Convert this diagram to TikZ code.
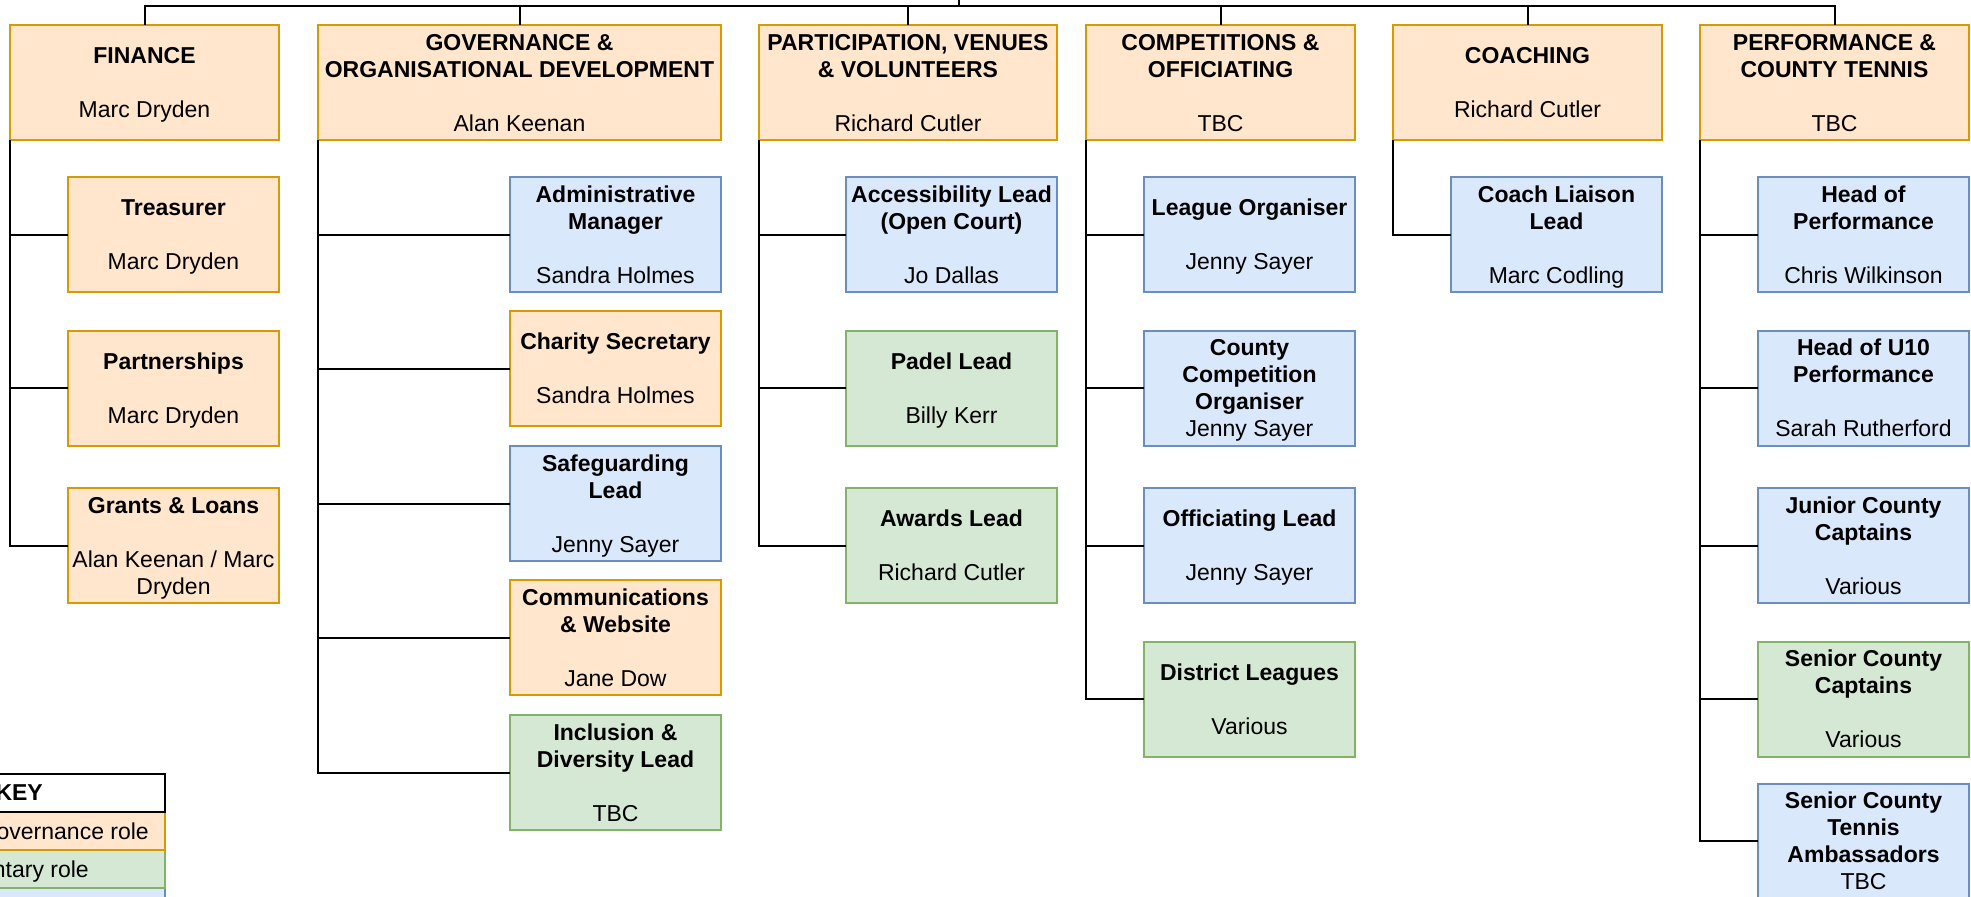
\documentclass[tikz,border=0pt]{standalone}
\usepackage{fontspec}
\setmainfont{Liberation Sans}
\definecolor{orgF}{HTML}{FFE6CC}
\definecolor{orgD}{HTML}{D79B00}
\definecolor{grnF}{HTML}{D5E8D4}
\definecolor{grnD}{HTML}{82B366}
\definecolor{bluF}{HTML}{DAE8FC}
\definecolor{bluD}{HTML}{6C8EBF}
\newcommand\lstr{\rule[-5.2pt]{0pt}{27pt}}
\begin{document}
\begin{tikzpicture}[x=1pt,y=-1pt,
  box/.style={draw, line width=2pt, align=center, inner sep=0pt, outer sep=0pt,
    font=\fontsize{23}{27}\selectfont, minimum height=115pt},
  org/.style={box, fill=orgF, draw=orgD},
  grn/.style={box, fill=grnF, draw=grnD},
  blu/.style={box, fill=bluF, draw=bluD},
  head/.style={minimum width=269pt},
  kid/.style={minimum width=211pt},
  conn/.style={line width=2pt, black},
  keytxt/.style={inner sep=0pt, anchor=base east, font=\fontsize{23}{27}\selectfont}
]
\useasboundingbox (0,0) rectangle (1971,897);
\clip (0,0) rectangle (1971,897);
\fill[white] (0,0) rectangle (1971,897);

% heads
\node[org, head] (fin) at (144.5,82.5) {\lstr\textbf{FINANCE}\\[27pt]Marc Dryden\lstr};
\node[org, minimum width=403pt] (gov) at (519.5,82.5) {\lstr\textbf{GOVERNANCE \&}\\\textbf{ORGANISATIONAL DEVELOPMENT}\\[27pt]Alan Keenan\lstr};
\node[org, minimum width=298pt] (par) at (908,82.5) {\lstr\textbf{PARTICIPATION, VENUES}\\\textbf{\& VOLUNTEERS}\\[27pt]Richard Cutler\lstr};
\node[org, head] (com) at (1220.5,82.5) {\lstr\textbf{COMPETITIONS \&}\\\textbf{OFFICIATING}\\[27pt]TBC\lstr};
\node[org, head] (coa) at (1527.5,82.5) {\lstr\textbf{COACHING}\\[27pt]Richard Cutler\lstr};
\node[org, head] (per) at (1834.5,82.5) {\lstr\textbf{PERFORMANCE \&}\\\textbf{COUNTY TENNIS}\\[27pt]TBC\lstr};

% finance
\node[org, kid] (tre) at (173.5,234.5) {\lstr\textbf{Treasurer}\\[27pt]Marc Dryden\lstr};
\node[org, kid] (pat) at (173.5,388) {\lstr\textbf{Partnerships}\\[27pt]Marc Dryden\lstr};
\node[org, kid] (gra) at (173.5,545.5) {\lstr\textbf{Grants \& Loans}\\[27pt]Alan Keenan / Marc\\Dryden\lstr};

% governance
\node[blu, kid] (adm) at (615.5,234.5) {\lstr\textbf{Administrative}\\\textbf{Manager}\\[27pt]Sandra Holmes\lstr};
\node[org, kid] (cha) at (615.5,368.5) {\lstr\textbf{Charity Secretary}\\[27pt]Sandra Holmes\lstr};
\node[blu, kid] (saf) at (615.5,503.5) {\lstr\textbf{Safeguarding}\\\textbf{Lead}\\[27pt]Jenny Sayer\lstr};
\node[org, kid] (cmw) at (615.5,637.5) {\lstr\textbf{Communications}\\\textbf{\& Website}\\[27pt]Jane Dow\lstr};
\node[grn, kid] (inc) at (615.5,772.5) {\lstr\textbf{Inclusion \&}\\\textbf{Diversity Lead}\\[27pt]TBC\lstr};

% participation
\node[blu, kid] (acc) at (951.5,234.5) {\lstr\textbf{Accessibility Lead}\\\textbf{(Open Court)}\\[27pt]Jo Dallas\lstr};
\node[grn, kid] (pad) at (951.5,388) {\lstr\textbf{Padel Lead}\\[27pt]Billy Kerr\lstr};
\node[grn, kid] (awa) at (951.5,545.5) {\lstr\textbf{Awards Lead}\\[27pt]Richard Cutler\lstr};

% competitions
\node[blu, kid] (lea) at (1249.5,234.5) {\lstr\textbf{League Organiser}\\[27pt]Jenny Sayer\lstr};
\node[blu, kid] (cco) at (1249.5,388) {\lstr\textbf{County}\\\textbf{Competition}\\\textbf{Organiser}\\Jenny Sayer\lstr};
\node[blu, kid] (off) at (1249.5,545.5) {\lstr\textbf{Officiating Lead}\\[27pt]Jenny Sayer\lstr};
\node[grn, kid] (dis) at (1249.5,699) {\lstr\textbf{District Leagues}\\[27pt]Various\lstr};

% coaching
\node[blu, kid] (cli) at (1556.5,234.5) {\lstr\textbf{Coach Liaison}\\\textbf{Lead}\\[27pt]Marc Codling\lstr};

% performance
\node[blu, kid] (hop) at (1863.5,234.5) {\lstr\textbf{Head of}\\\textbf{Performance}\\[27pt]Chris Wilkinson\lstr};
\node[blu, kid] (hut) at (1863.5,388) {\lstr\textbf{Head of U10}\\\textbf{Performance}\\[27pt]Sarah Rutherford\lstr};
\node[blu, kid] (jcc) at (1863.5,545.5) {\lstr\textbf{Junior County}\\\textbf{Captains}\\[27pt]Various\lstr};
\node[grn, kid] (scc) at (1863.5,699) {\lstr\textbf{Senior County}\\\textbf{Captains}\\[27pt]Various\lstr};
\node[blu, kid] (sta) at (1863.5,841) {\lstr\textbf{Senior County}\\\textbf{Tennis}\\\textbf{Ambassadors}\\TBC\lstr};

% top connectors
\coordinate (root) at (959,-20);
\coordinate (bus) at (959,5.5);
\draw[conn] (root) -- (bus);
\foreach \h in {fin,gov,par,com,coa,per} \draw[conn] (bus) -| (\h.north);

% child connectors
\foreach \c in {tre,pat,gra} \draw[conn] (fin.south west) |- (\c.west);
\foreach \c in {adm,cha,saf,cmw,inc} \draw[conn] (gov.south west) |- (\c.west);
\foreach \c in {acc,pad,awa} \draw[conn] (par.south west) |- (\c.west);
\foreach \c in {lea,cco,off,dis} \draw[conn] (com.south west) |- (\c.west);
\draw[conn] (coa.south west) |- (cli.west);
\foreach \c in {hop,hut,jcc,scc,sta} \draw[conn] (per.south west) |- (\c.west);

% key
\path[draw=bluD, fill=bluF, line width=2pt] (-100,888) rectangle (165,930);
\path[draw=grnD, fill=grnF, line width=2pt] (-100,850) rectangle (165,888);
\path[draw=orgD, fill=orgF, line width=2pt] (-100,812) rectangle (165,850);
\path[draw=black, fill=white, line width=2pt] (-100,774) rectangle (165,812);
\node[keytxt] (keyt) at (43,800) {\textbf{KEY}};
\node[keytxt] (keyg) at (149,839) {Governance role};
\node[keytxt] (keyv) at (89,877) {Voluntary role};
\end{tikzpicture}
\end{document}
